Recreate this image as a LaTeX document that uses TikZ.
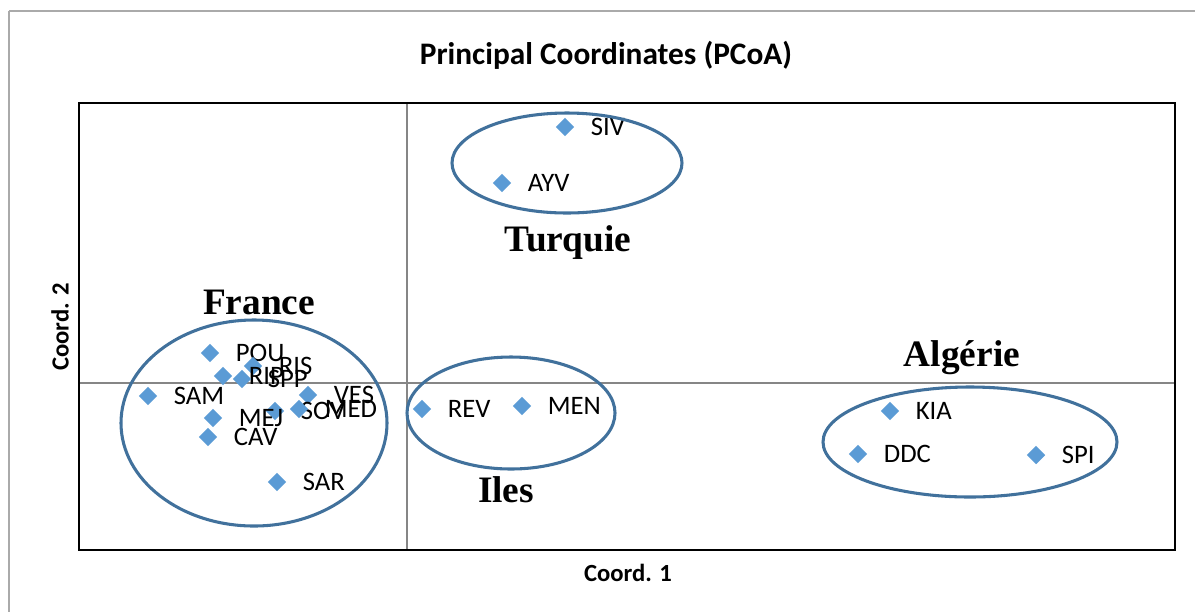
\documentclass[tikz,border=0pt]{standalone}
\usepackage{fontspec}
\setmainfont{Liberation Serif}
\newfontfamily\calibri{Carlito}
\definecolor{mk}{RGB}{91,155,213}
\definecolor{grp}{RGB}{65,113,156}
\definecolor{ax}{RGB}{134,134,134}
\definecolor{fr}{RGB}{170,170,170}
\usetikzlibrary{
  shapes.geometric, % diamond markers
  positioning       % labels right of markers
}
\tikzset{
    marker/.style = {
        diamond,
        fill = mk,
        minimum size = 14pt,
        inner sep = 0pt
    },
    lbl/.style = {
        font = \calibri\fontsize{20}{20}\selectfont,
        inner sep = 0pt,
        right = 12pt of #1
    },
    country/.style = {font = \bfseries\fontsize{28}{28}\selectfont},
    axtitle/.style = {font = \calibri\bfseries\fontsize{18.5}{18.5}\selectfont},
    cluster/.style = {draw = grp, line width = 2.3pt},
    axis/.style = {draw = ax, line width = 1.1pt}
}

\begin{document}
\begin{tikzpicture}[x=0.75pt, y=-0.75pt]
  \useasboundingbox (0,0) rectangle (1195,612);

  %% chart frame
  \draw [fr, line width=0.8pt] (9,11) -- (1195,11);
  \draw [fr, line width=0.8pt] (9,11) -- (9,612);

  %% title
  \node [font=\calibri\bfseries\fontsize{23.5}{23.5}\selectfont] (title) at (606,55) {Principal Coordinates (PCoA)};

  %% plot area
  \draw [axis] (407,103) -- (407,550);
  \draw [axis] (79,383) -- (1175,383);
  \draw [black, line width=1.6pt] (79,103) rectangle (1175,550);

  \node [axtitle] (xlab) at (628,573) {Coord. 1};
  \node [axtitle, rotate=90] (ylab) at (60,327) {Coord. 2};

  %% Turquie
  \node [marker] (SIV) at (565,127) {};
  \node [lbl=SIV] (SIVtext) {SIV};
  \node [marker] (AYV) at (502,183) {};
  \node [lbl=AYV] (AYVtext) {AYV};
  \draw [cluster] (567,163) ellipse (115 and 50);
  \node [country] (Turquie) at (568,243) {Turquie};

  %% Iles
  \node [marker] (REV) at (422,409) {};
  \node [lbl=REV] (REVtext) {REV};
  \node [marker] (MEN) at (522,406) {};
  \node [lbl=MEN] (MENtext) {MEN};
  \draw [cluster] (511,413) ellipse (104 and 56);
  \node [country] (Iles) at (506,490) {Iles};

  %% Algerie
  \node [marker] (KIA) at (890,411) {};
  \node [lbl=KIA] (KIAtext) {KIA};
  \node [marker] (DDC) at (858,454) {};
  \node [lbl=DDC] (DDCtext) {DDC};
  \node [marker] (SPI) at (1036,455) {};
  \node [lbl=SPI] (SPItext) {SPI};
  \draw [cluster] (970,442) ellipse (147 and 55);
  \node [country] (Algerie) at (962,358) {Algérie};

  %% France
  \node [marker] (POU) at (210,353) {};
  \node [lbl=POU] (POUtext) {POU};
  \node [marker] (RIS) at (253,366) {};
  \node [lbl=RIS] (RIStext) {RIS};
  \node [marker] (RIP) at (223,376) {};
  \node [lbl=RIP] (RIPtext) {RIP};
  \node [marker] (SPP) at (242,379) {};
  \node [lbl=SPP] (SPPtext) {SPP};
  \node [marker] (SAM) at (148,396) {};
  \node [lbl=SAM] (SAMtext) {SAM};
  \node [marker] (VES) at (308,395) {};
  \node [lbl=VES] (VEStext) {VES};
  \node [marker] (SOV) at (275,411) {};
  \node [lbl=SOV] (SOVtext) {SOV};
  \node [marker] (MED) at (299,409) {};
  \node [lbl=MED] (MEDtext) {MED};
  \node [marker] (MEJ) at (213,418) {};
  \node [lbl=MEJ] (MEJtext) {MEJ};
  \node [marker] (CAV) at (208,437) {};
  \node [lbl=CAV] (CAVtext) {CAV};
  \node [marker] (SAR) at (277,482) {};
  \node [lbl=SAR] (SARtext) {SAR};
  \draw [cluster] (254,423) ellipse (133 and 103);
  \node [country] (France) at (259,302) {France};

\end{tikzpicture}
\end{document}
